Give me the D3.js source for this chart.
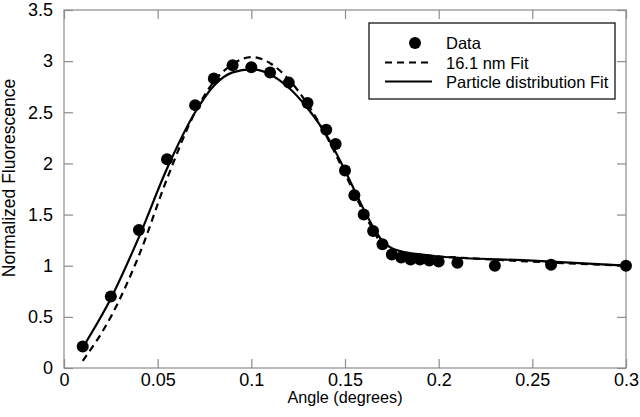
<!DOCTYPE html>
<html lang="en">
<head>
<meta charset="UTF-8">
<title>Normalized Fluorescence vs Angle</title>
<script src="https://cdn.jsdelivr.net/npm/d3@7"></script>
<style>
    body { margin: 0; background: #fff; }
    svg { font-family: "Liberation Sans", Arial, sans-serif; display: block; }
</style>
</head>
<body>
<svg id="chart"></svg>
<script>
    // measured data points
    const dataX = [0.01, 0.025, 0.04, 0.055, 0.07, 0.08, 0.09, 0.1, 0.11, 0.12, 0.13, 0.14, 0.145,
        0.15, 0.155, 0.16, 0.165, 0.17, 0.175, 0.18, 0.185, 0.19, 0.195, 0.2, 0.21, 0.23, 0.26, 0.3];
    const dataY = [0.21, 0.70, 1.35, 2.04, 2.57, 2.83, 2.96, 2.94, 2.89, 2.79, 2.59, 2.33, 2.19,
        1.93, 1.69, 1.50, 1.34, 1.21, 1.11, 1.08, 1.06, 1.06, 1.05, 1.04, 1.03, 1.00, 1.01, 1.00];

    // 16.1 nm fit (dashed)
    const fitX = [0.01, 0.025, 0.04, 0.055, 0.07, 0.08, 0.09, 0.1, 0.11, 0.12, 0.13, 0.14, 0.15,
        0.16, 0.165, 0.17, 0.175, 0.18, 0.19, 0.2, 0.25, 0.3];
    const fitY = [0.07, 0.50, 1.10, 1.85, 2.50, 2.80, 2.97, 3.04, 2.98, 2.82, 2.58, 2.27, 1.90,
        1.52, 1.35, 1.20, 1.15, 1.12, 1.10, 1.09, 1.04, 1.00];

    // particle distribution fit (solid)
    const distX = [0.01, 0.025, 0.04, 0.055, 0.07, 0.08, 0.09, 0.1, 0.11, 0.12, 0.13, 0.14, 0.15,
        0.16, 0.165, 0.17, 0.175, 0.18, 0.19, 0.2, 0.25, 0.3];
    const distY = [0.20, 0.68, 1.28, 1.95, 2.50, 2.76, 2.89, 2.92, 2.87, 2.74, 2.54, 2.28, 1.93,
        1.55, 1.38, 1.24, 1.17, 1.14, 1.11, 1.09, 1.05, 1.00];

    const xTicks = [0, 0.05, 0.1, 0.15, 0.2, 0.25, 0.3];
    const yTicks = [0, 0.5, 1, 1.5, 2, 2.5, 3, 3.5];
    const legendLabels = ["Data", "16.1 nm Fit", "Particle distribution Fit"];

    const width = 640, height = 417;
    const margin = {top: 10, right: 14, bottom: 49, left: 64};
    const iw = width - margin.left - margin.right;
    const ih = height - margin.top - margin.bottom;

    const svg = d3.select("#chart").attr("width", width).attr("height", height);
    const g = svg.append("g").attr("transform", `translate(${margin.left},${margin.top})`);

    const x = d3.scaleLinear().domain([0, 0.3]).range([0, iw]);
    const y = d3.scaleLinear().domain([0, 3.5]).range([ih, 0]);

    const axisColor = "#8c8c8c";
    const tickLen = 9;

    // frame
    g.append("rect").attr("width", iw).attr("height", ih)
        .attr("fill", "none").attr("stroke", axisColor).attr("stroke-width", 1.2);

    // inward ticks on all four sides
    function styleAxis(sel) {
        sel.select(".domain").remove();
        sel.selectAll(".tick line").attr("stroke", axisColor).attr("stroke-width", 1.2);
        sel.selectAll(".tick text").attr("fill", "#000").attr("font-size", 18)
            .attr("font-family", "'Liberation Sans', Arial, sans-serif");
    }

    g.append("g").attr("transform", `translate(0,${ih})`)
        .call(d3.axisBottom(x).tickValues(xTicks).tickSize(-tickLen).tickPadding(5)
            .tickFormat(d => d3.format("")(+d.toFixed(2))))
        .call(styleAxis);
    g.append("g")
        .call(d3.axisTop(x).tickValues(xTicks).tickSize(-tickLen).tickFormat(""))
        .call(styleAxis);
    g.append("g")
        .call(d3.axisLeft(y).tickValues(yTicks).tickSize(-tickLen).tickPadding(11)
            .tickFormat(d => d3.format("")(d)))
        .call(styleAxis);
    g.append("g").attr("transform", `translate(${iw},0)`)
        .call(d3.axisRight(y).tickValues(yTicks).tickSize(-tickLen).tickFormat(""))
        .call(styleAxis);

    // axis titles
    svg.append("text").attr("x", margin.left + iw / 2).attr("y", 403)
        .attr("text-anchor", "middle").attr("font-size", 16.2).text("Angle (degrees)");
    svg.append("text").attr("transform", "translate(15,178) rotate(-90)")
        .attr("text-anchor", "middle").attr("font-size", 17.5).text("Normalized Fluorescence");

    const line = d3.line().x(d => x(d[0])).y(d => y(d[1])).curve(d3.curveMonotoneX);

    g.append("path").datum(d3.zip(fitX, fitY))
        .attr("d", line).attr("fill", "none").attr("stroke", "#000")
        .attr("stroke-width", 2.2).attr("stroke-dasharray", "7,5");

    g.append("path").datum(d3.zip(distX, distY))
        .attr("d", line).attr("fill", "none").attr("stroke", "#000")
        .attr("stroke-width", 2.2);

    g.selectAll("circle.pt").data(d3.zip(dataX, dataY)).enter()
        .append("circle").attr("class", "pt")
        .attr("cx", d => x(d[0])).attr("cy", d => y(d[1])).attr("r", 6)
        .attr("fill", "#000");

    // legend
    const lg = svg.append("g").attr("transform", "translate(369,23)");
    lg.append("rect").attr("width", 246).attr("height", 76)
        .attr("fill", "#fff").attr("stroke", "#000").attr("stroke-width", 1.2);
    const rowY = [20, 39.5, 58.5];
    lg.append("circle").attr("cx", 46).attr("cy", rowY[0]).attr("r", 6).attr("fill", "#000");
    lg.append("line").attr("x1", 16).attr("x2", 63).attr("y1", rowY[1]).attr("y2", rowY[1])
        .attr("stroke", "#000").attr("stroke-width", 2).attr("stroke-dasharray", "7,5");
    lg.append("line").attr("x1", 16).attr("x2", 63).attr("y1", rowY[2]).attr("y2", rowY[2])
        .attr("stroke", "#000").attr("stroke-width", 2);
    lg.selectAll("text.lab").data(legendLabels).enter()
        .append("text").attr("class", "lab")
        .attr("x", 77).attr("y", (d, i) => rowY[i] + 6)
        .attr("font-size", 16.5).text(d => d);
</script>
</body>
</html>
